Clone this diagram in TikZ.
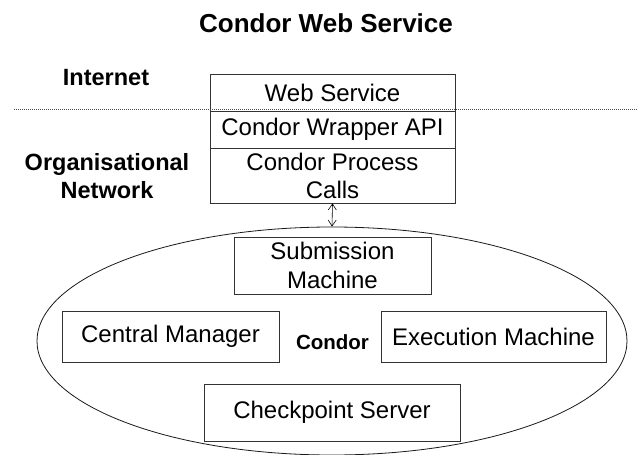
\documentclass[tikz,border=0pt]{standalone}
\usepackage{fontspec}
\setmainfont{Liberation Sans}
\usetikzlibrary{shapes.geometric}
\usetikzlibrary{arrows.meta}

\tikzset{
  layer/.style={draw=black!80, line width=0.8pt, minimum width=245pt, inner sep=0pt, align=center, font=\fontsize{24}{28}\selectfont},
  part/.style={draw=black!80, line width=0.8pt, inner sep=0pt, align=center, font=\fontsize{24}{29}\selectfont},
  zone/.style={align=center, font=\bfseries\fontsize{23.5}{28}\selectfont},
}

\begin{document}
\begin{tikzpicture}[x=1pt, y=-1pt]
\def\l{6pt}
\def\w{8pt}
\useasboundingbox (0,0) rectangle (638,455);

\node [zone, font=\bfseries\fontsize{26}{30}\selectfont, name=title] at (326,23) {Condor Web Service};
\node [zone, name=inet] at (106,78) {Internet};
\node [zone, name=org]  at (107,176) {Organisational\\Network};

% web service stack
\node [layer, minimum height=37pt, name=ws]    at (332.5,92.5)  {Web Service};
\node [layer, minimum height=37pt, name=api]   at (332.5,129.5) {Condor Wrapper API};
\node [layer, minimum height=55pt, name=calls] at (332.5,175.5) {Condor Process\\Calls};

\coordinate (cutl) at (14,109);
\coordinate (cutr) at (637,109);
\draw [black!70, line width=0.6pt, dash pattern=on 1pt off 1pt] (cutl) -- (cutr);

% condor pool
\node [draw=black!90, line width=0.8pt, ellipse, minimum width=590pt, minimum height=228pt, inner sep=0pt, name=pool] at (332,341) {};
\node [part, minimum width=197pt, minimum height=57pt, name=sub]  at (332.5,265.5) {Submission\\Machine};
\node [part, minimum width=217pt, minimum height=51pt, name=cm]   at (170.5,336.5) {Central Manager};
\node [part, minimum width=225pt, minimum height=51pt, name=exe]  at (493.5,336.5) {Execution Machine};
\node [part, minimum width=256pt, minimum height=57pt, name=ckpt] at (332,412.5)   {Checkpoint Server};
\node [font=\bfseries\fontsize{20.5}{24}\selectfont, name=condor] at (332.5,342.5) {Condor};

\draw [{Straight Barb[length=\l, width=\w]}-{Straight Barb[length=\l, width=\w]}, line width=0.6pt] (calls.south) to (pool.north);
\end{tikzpicture}
\end{document}
